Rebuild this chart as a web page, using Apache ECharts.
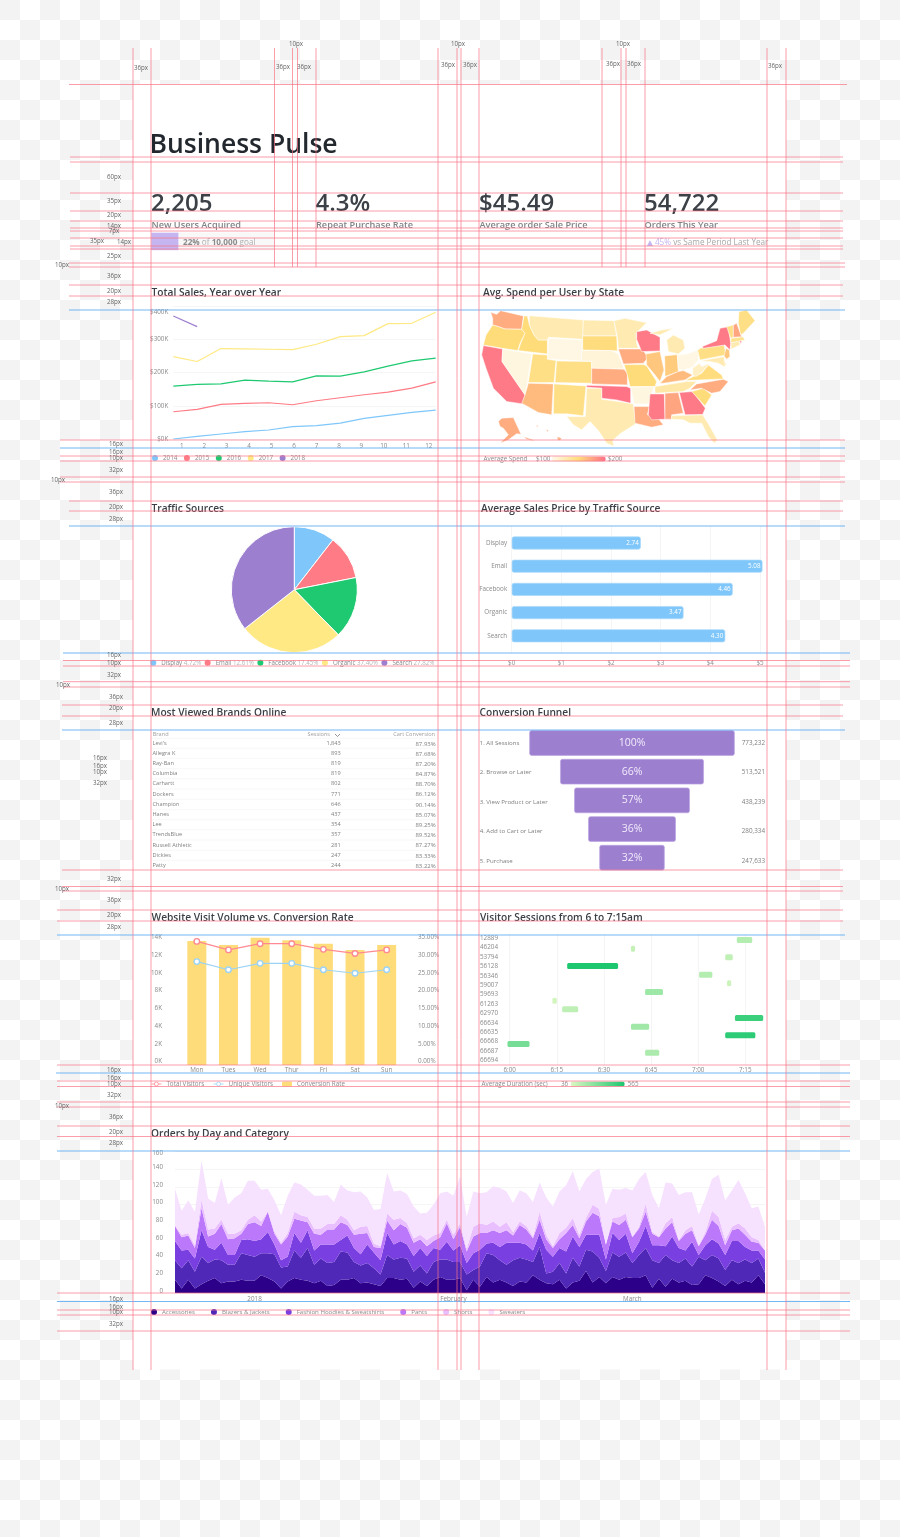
<!DOCTYPE html>
<html><head><meta charset="utf-8">
<style>
html,body{margin:0;padding:0;width:900px;height:1537px;overflow:hidden;background-color:#fff;
background-image:conic-gradient(#f3f3f3 25%,#fff 25% 50%,#f3f3f3 50% 75%,#fff 75%);background-size:40px 40px;background-position:20px 0}
#c{width:900px;height:1537px;filter:blur(0.4px)}
</style>
<script src="https://cdn.jsdelivr.net/npm/echarts@6/dist/echarts.min.js"></script>
</head><body><div id="c"></div>
<script>
const FONT='"Open Sans"';
// ---------- data ----------
const kpiValues=['2,205','4.3%','$45.49','54,722'];
const kpiNames=['New Users Acquired','Repeat Purchase Rate','Average order Sale Price','Orders This Year'];
const goalShare=[22];

const salesMonths=['1','2','3','4','5','6','7','8','9','10','11','12'];
const sales2014=[0,8,15,22,27,37,40,48,62,71,80,87];
const sales2015=[82,89,104,107,109,103,115,124,133,141,153,172];
const sales2016=[159,164,166,177,174,172,190,189,202,219,235,243];
const sales2017=[248,233,272,271,270,269,285,308,311,347,348,381];
const sales2018=[370,338];

const stateCodes=['WA','OR','CA','NV','ID','MT','WY','UT','AZ','CO','NM','ND','SD','NE','KS','OK','TX','MN','IA','MO','AR','LA','WI','IL','IN','MI','OH','KY','TN','MS','AL','GA','FL','SC','NC','VA','WV','PA','NY','NJ','DE','MD','CT','RI','MA','VT','NH','ME','AK','HI'];
const stateSpend=[172,150,195,105,150,125,103,145,165,145,145,125,148,108,172,198,125,125,172,150,105,172,195,160,158,125,103,165,130,195,175,195,125,150,172,148,118,145,195,160,120,125,125,195,140,145,175,145,172,170];
const stateShapes={
WA:[[[62,97],[80,103],[92,92],[160,108],[155,148],[105,147],[85,140],[68,135],[68,115]]],
OR:[[[68,135],[85,140],[105,147],[155,148],[165,160],[150,190],[143,212],[97,205],[40,195],[48,165]]],
CA:[[[40,197],[98,207],[96,245],[165,345],[158,372],[110,365],[70,325],[48,265],[35,225]]],
NV:[[[98,207],[185,222],[172,308],[165,345],[96,245]]],
ID:[[[162,108],[172,108],[178,135],[192,165],[205,180],[232,180],[232,222],[145,212],[152,190],[165,160],[155,148]]],
MT:[[[178,107],[340,120],[338,178],[236,172],[232,180],[205,180],[192,165],[178,135]]],
WY:[[[236,175],[336,180],[335,243],[232,237]]],
UT:[[[188,222],[232,225],[232,238],[258,242],[252,308],[175,308]]],
AZ:[[[175,310],[250,312],[245,405],[205,398],[155,370],[165,345]]],
CO:[[[260,243],[365,245],[365,310],[255,308]]],
NM:[[[252,312],[348,318],[340,408],[290,402],[250,402]]],
ND:[[[340,120],[432,122],[440,168],[338,168]]],
SD:[[[338,168],[440,168],[442,213],[425,212],[338,210]]],
NE:[[[335,212],[425,212],[445,222],[462,268],[365,265],[365,243],[335,243]]],
KS:[[[365,265],[462,268],[472,280],[472,315],[365,312]]],
OK:[[[350,316],[470,320],[482,325],[482,370],[440,360],[395,355],[395,325],[350,322]]],
TX:[[[350,325],[395,325],[395,358],[445,365],[490,372],[497,432],[450,462],[428,482],[432,500],[410,490],[385,452],[360,425],[335,450],[310,435],[290,410],[346,410]]],
MN:[[[432,122],[465,115],[530,128],[498,160],[500,190],[505,205],[445,205],[442,170]]],
IA:[[[445,207],[515,207],[535,232],[520,250],[460,252]]],
MO:[[[462,254],[520,254],[530,258],[560,305],[555,320],[480,320],[472,285]]],
AR:[[[482,322],[552,320],[538,372],[492,372]]],
LA:[[[492,380],[538,380],[532,405],[560,410],[580,435],[545,442],[495,430]]],
WI:[[[500,155],[530,150],[570,172],[570,213],[515,215],[500,178]]],
IL:[[[528,222],[570,215],[582,270],[570,305],[555,285],[530,255]]],
IN:[[[584,228],[622,224],[625,275],[585,290]]],
MI:[[[595,215],[590,180],[610,165],[640,180],[645,205],[625,222]],[[540,160],[575,150],[610,145],[590,155],[570,165]]],
OH:[[[622,225],[650,222],[685,210],[685,240],[668,262],[640,270],[625,268]]],
KY:[[[570,310],[590,290],[625,275],[640,272],[668,285],[645,300],[580,310]]],
TN:[[[555,320],[650,305],[680,305],[660,325],[640,335],[555,340]]],
MS:[[[540,342],[583,342],[585,418],[545,420],[535,405]]],
AL:[[[585,340],[625,338],[640,400],[605,405],[605,418],[585,418]]],
GA:[[[628,338],[668,335],[706,385],[698,404],[645,405]]],
FL:[[[605,408],[698,405],[720,440],[742,480],[733,490],[715,470],[695,430],[660,430],[640,420],[605,418]]],
SC:[[[665,335],[700,325],[725,345],[705,378]]],
NC:[[[660,330],[680,312],[760,298],[775,305],[750,335],[725,340],[695,325]]],
VA:[[[645,302],[670,290],[695,280],[715,255],[755,285],[760,297]]],
WV:[[[668,285],[668,265],[688,250],[695,260],[720,250],[695,278],[678,290]]],
PA:[[[683,212],[690,205],[762,195],[768,225],[690,240]]],
NY:[[[697,200],[740,182],[750,145],[775,140],[782,190],[780,210],[765,195],[700,205]]],
NJ:[[[768,205],[778,210],[780,230],[770,238],[762,228]]],
DE:[[[763,240],[770,255],[760,258]]],
MD:[[[690,243],[762,230],[765,262],[745,250],[720,245]]],
CT:[[[783,188],[808,182],[810,195],[783,208]]],
RI:[[[808,182],[815,182],[813,192]]],
MA:[[[782,175],[818,170],[825,180],[783,188]]],
VT:[[[770,140],[790,135],[790,172],[782,175]]],
NH:[[[790,135],[800,130],[815,170],[790,172]]],
ME:[[[807,95],[830,90],[855,122],[820,160],[812,165],[805,130]]],
AK:[[[85,425],[95,415],[130,413],[153,463],[140,462],[115,480],[90,490],[115,465],[100,445],[90,440]],[[160,470],[185,478],[195,484],[170,478]]],
HI:[[[262,470],[275,475],[270,482],[262,480]],[[198,436],[205,438],[202,442]],[[228,448],[236,452],[232,456]]]
};

const trafficNames=['Display','Email','Facebook','Organic','Search'];
const trafficSlices=[10.5,11.4,15.8,26.7,35.6];
const trafficPercents=['4.72%','12.61%','17.45%','37.40%','27.82%'];
const priceValues=[2.60,5.05,4.45,3.46,4.30];
const priceLabels=['2.74','5.08','4.46','3.47','4.30'];

const brandNames=["Levi's",'Allegra K','Ray-Ban','Columbia','Carhartt','Dockers','Champion','Hanes','Lee','TrendsBlue','Russell Athletic','Dickies','Patty'];
const brandSessions=['1,843','893','819','819','802','771','646','437','354','357','281','247','244'];
const brandCart=['87.93%','87.68%','87.20%','84.87%','88.70%','86.12%','90.14%','85.07%','89.25%','89.52%','87.27%','83.33%','83.22%'];

const funnelSteps=['1. All Sessions','2. Browse or Later','3. View Product or Later','4. Add to Cart or Later','5. Purchase'];
const funnelCounts=['773,232','513,521','438,239','280,334','247,633'];
const funnelPercents=['100%','66%','57%','36%','32%'];
const funnelWidths=[100,70,56.3,42.7,31.8];

const weekDays=['Mon','Tues','Wed','Thur','Fri','Sat','Sun'];
const totalVisitors=[13.96,13.0,13.7,13.7,13.06,12.6,13.0];
const uniqueVisitors=[11.68,10.76,11.48,11.48,10.76,10.36,10.76];
const conversionRate=[35.0,33.9,35.95,35.25,34.25,32.5,33.9];

const visitorIds=['12889','46204','53794','56128','56346','59007','59693','61263','62970','66634','66635','66668','66687','66694'];
const sessionStart=[72.3,38.6,68.6,18.3,60.3,69.2,43.1,13.6,16.7,71.7,38.6,68.6,-0.7,43.1];
const sessionEnd=[77.2,39.9,71.0,34.5,64.5,70.5,48.8,15.0,21.8,80.7,44.4,78.2,6.3,47.6];
const sessionDuration=[150,100,110,565,150,80,210,60,120,480,200,520,320,170];
const sessionTicks={0:'6:00',15:'6:15',30:'6:30',45:'6:45',60:'7:00',75:'7:15'};

// orders: read as the top edge of each stacked band
const topAccessories=[15,5,15,5,10,14,17,11,13,13,15,14,14,20,17,13,5,13,17,15,14,11,14,8,9,15,15,17,11,12,10,8,17,17,15,16,6,13,8,15,18,15,15,17,3,15,7,18,12,15,12,8,13,12,20,15,11,10,15,5,12,14,25,12,18,11,18,15,18,17,17,20,6,16,7,16,12,14,9,10,20,17,13,8,15,10,14,12,20,10];
const topBlazers=[37,28,37,24,41,34,38,37,32,32,45,43,41,45,45,44,29,30,48,40,51,32,39,34,35,47,46,35,31,34,28,21,43,38,40,39,24,31,22,35,38,38,35,35,21,26,30,45,43,37,32,37,40,38,35,52,22,24,34,22,40,30,49,47,40,25,46,41,46,34,43,51,37,34,43,37,34,39,30,41,37,43,39,26,37,34,38,34,39,23];
const topHoodies=[59,48,49,39,71,52,49,57,43,43,60,61,59,61,69,55,37,41,68,57,71,48,55,55,55,60,65,51,44,55,46,37,68,55,59,55,42,51,42,51,49,58,48,54,34,45,49,56,57,52,57,57,57,55,48,68,49,41,51,47,64,52,66,66,66,38,68,60,67,45,58,76,54,54,53,64,51,48,58,43,54,61,56,43,59,59,52,48,48,38];
const topPants=[76,63,65,51,96,64,67,78,61,62,67,78,80,76,92,67,55,64,84,82,80,67,66,72,72,80,77,66,67,68,52,51,82,71,78,74,57,61,53,59,63,79,61,75,47,64,68,68,71,68,71,65,77,72,62,83,61,51,61,68,77,62,81,91,87,55,81,77,83,63,73,92,67,63,73,80,59,67,71,53,66,83,76,54,71,73,66,58,57,48];
const topShorts=[77,66,68,54,106,72,73,83,67,67,71,83,88,81,92,70,57,68,92,88,86,73,73,78,78,88,83,71,75,76,56,53,90,83,85,79,62,66,60,65,68,83,66,79,50,75,79,77,81,75,80,69,81,76,64,92,66,53,68,74,85,66,85,100,95,55,85,86,90,64,75,101,69,64,79,86,60,71,76,54,69,93,86,60,75,79,73,63,60,49];
const topSweaters=[118,93,105,92,150,107,102,130,100,108,113,127,127,117,118,105,88,110,125,123,117,110,110,111,103,123,116,114,115,108,94,95,136,115,116,112,98,90,91,100,113,115,110,132,86,115,113,114,121,119,115,102,116,113,103,125,108,98,115,122,138,115,129,137,141,100,118,117,119,116,129,137,111,96,125,124,111,114,114,89,107,129,134,105,116,128,113,96,98,75];
const orderCategories=['Accessories','Blazers & Jackets','Fashion Hoodies & Sweatshirts','Pants','Shorts','Sweaters'];
const orderMonthTicks={12:'2018',42:'February',69:'March'};

// ---------- styles ----------
const C={blue:'#7fc7fa',red:'#ff7b85',green:'#1fc971',yellow:'#ffe984',purple:'#9d7fd0',amber:'#ffdc7a',grid:'#f5f5f5',label:'#8a8a8a',title:'#3a3f45'};
const orderColors=['#2c0089','#5028b8','#7a3fe0','#bc78fb','#e9bfff','#f6e1ff'];
const lbl=(s=6.5,c=C.label)=>({fontFamily:FONT,fontSize:s,color:c});
const noShow={show:false};

// ---------- map ----------
const geo={type:'FeatureCollection',features:stateCodes.map(n=>({type:'Feature',properties:{name:n},geometry:{type:'MultiPolygon',coordinates:stateShapes[n].map(r=>[r.concat([r[0]])])}}))};
echarts.registerMap('USA',geo);

// ---------- composition ----------
const grid=[],xAxis=[],yAxis=[],series=[],legend=[],visualMap=[];
function cell(box,x,y){grid.push(box);const i=grid.length-1;
 xAxis.push(Object.assign({gridIndex:i},x));yAxis.push(Object.assign({gridIndex:i},y));return {g:i,x:xAxis.length-1,y:yAxis.length-1};}
function leg(names,left,y,extra){legend.push(Object.assign({show:true,data:names,left,top:y-3,padding:0,orient:'horizontal',icon:'circle',itemWidth:6,itemHeight:6,itemGap:8,textStyle:lbl(6.3),selectedMode:false},extra||{}));}

// progress bar
let g=cell({left:151.3,top:232.7,width:123,height:17.4},{type:'value',min:0,max:100,show:false},{type:'category',data:['goal'],show:false});
series.push({type:'bar',xAxisIndex:g.x,yAxisIndex:g.y,data:goalShare,barWidth:18,itemStyle:{color:'#c5b5f0'},showBackground:true,backgroundStyle:{color:'#f8f8f8'},silent:true});

// line chart
g=cell({left:173.3,top:306,width:262.4,height:133},{type:'category',boundaryGap:false,data:salesMonths,show:false},
 {type:'value',min:0,max:400,interval:100,axisLine:noShow,axisTick:noShow,splitLine:{lineStyle:{color:C.grid,width:1}},
  axisLabel:Object.assign(lbl(6.3),{margin:5,lineHeight:12,formatter:v=>'$'+v+'K',verticalAlignMaxLabel:'top'})});
[['2014',sales2014,C.blue],['2015',sales2015,C.red],['2016',sales2016,C.green],['2017',sales2017,C.yellow],['2018',sales2018,C.purple]].forEach(([n,d,c])=>{
 series.push({type:'line',name:n,xAxisIndex:g.x,yAxisIndex:g.y,data:d,showSymbol:false,symbol:'none',lineStyle:{color:c,width:1.2},itemStyle:{color:c},silent:true});});
g=cell({left:170.5,top:306,width:269.5,height:133},{type:'category',data:salesMonths,axisLine:noShow,axisTick:noShow,axisLabel:Object.assign(lbl(6.3),{margin:4.5,interval:0})},
 {type:'value',min:0,max:400,show:false});
leg(['2014','2015','2016','2017','2018'],152,458,{itemGap:6.5});

// map
series.push({type:'map',map:'USA',left:481.7,top:310,width:273.3,height:136.5,aspectScale:1,roam:false,silent:true,showLegendSymbol:false,
 projection:{project:p=>p,unproject:p=>p},label:{show:false},emphasis:{disabled:true},select:{disabled:true},
 itemStyle:{borderColor:'#fff',borderWidth:0.5,areaColor:'#fff4d0'},
 data:stateCodes.map((n,i)=>({name:n,value:stateSpend[i]}))});
const mapSeriesIndex=series.length-1;
visualMap.push({type:'continuous',seriesIndex:mapSeriesIndex,min:100,max:200,orient:'horizontal',left:551.7,top:456.5,padding:0,itemWidth:5,itemHeight:54,showLabel:false,calculable:false,realtime:false,hoverLink:false,
 inRange:{color:['#fff9ea','#ffdc7a','#ff6f88']},textStyle:lbl(6.3)});

// pie
series.push({type:'pie',name:'Traffic',center:[294.3,589.7],radius:63,startAngle:90,silent:true,label:noShow,labelLine:noShow,
 itemStyle:{borderColor:'#fff',borderWidth:1},
 data:trafficNames.map((n,i)=>({name:n,value:trafficSlices[i],itemStyle:{color:[C.blue,C.red,C.green,C.yellow,C.purple][i]}}))});
leg(trafficNames,150.3,662.8,{itemGap:3.5,itemStyle:{borderWidth:0},formatter:n=>`{n|${n} }{p|${trafficPercents[trafficNames.indexOf(n)]}}`,
 textStyle:Object.assign(lbl(6.2),{rich:{n:lbl(6.2,'#888'),p:lbl(6.2,'#b5b5b5')}})});

// horizontal bars
g=cell({left:511.7,top:526,width:248.3,height:127},{type:'value',min:0,max:5,interval:1,axisLine:noShow,axisTick:noShow,splitLine:{lineStyle:{color:C.grid}},axisLabel:Object.assign(lbl(6.3),{margin:7,formatter:v=>'$'+v})},
 {type:'category',data:trafficNames,show:false});
g=cell({left:511.7,top:531.4,width:248.3,height:116},{type:'value',min:0,max:5,show:false},
 {type:'category',inverse:true,data:trafficNames,axisLine:noShow,axisTick:noShow,axisLabel:Object.assign(lbl(6.3),{margin:4.5,interval:0})});
series.push({type:'bar',name:'Average Sales Price',xAxisIndex:g.x,yAxisIndex:g.y,data:priceValues,barWidth:13,silent:true,clip:false,
 itemStyle:{color:C.blue,borderColor:'#a9d9fb',borderWidth:0.7,borderRadius:2},
 label:{show:true,position:'insideRight',distance:2,formatter:p=>priceLabels[p.dataIndex],fontFamily:FONT,fontSize:6.3,color:'#fff'}});

// funnel
g=cell({left:529.3,top:728.65,width:205.4,height:143.4},{type:'value',min:0,max:100,show:false},
 {type:'category',inverse:true,data:funnelSteps,show:false});
series.push({type:'bar',stack:'funnel',xAxisIndex:g.x,yAxisIndex:g.y,barWidth:25.5,silent:true,itemStyle:{color:'transparent'},data:funnelWidths.map(w=>(100-w)/2)});
series.push({type:'bar',stack:'funnel',name:'Conversion Funnel',xAxisIndex:g.x,yAxisIndex:g.y,barWidth:25.5,silent:true,data:funnelWidths,
 itemStyle:{color:C.purple,borderColor:'#bba4e2',borderWidth:0.7,borderRadius:2},
 label:{show:true,position:'inside',formatter:p=>funnelPercents[p.dataIndex],fontFamily:FONT,fontSize:10.5,color:'#f1ebfa'}});
g=cell({left:529.3,top:728.3,width:205.4,height:147.5},{type:'value',min:0,max:100,show:false},
 {type:'category',inverse:true,data:funnelSteps,axisLine:noShow,axisTick:noShow,axisLabel:Object.assign(lbl(6.1,'#7f7f7f'),{align:'left',margin:49.6,interval:0})});
yAxis.push({gridIndex:g.g,type:'category',inverse:true,position:'right',data:funnelCounts,axisLine:noShow,axisTick:noShow,axisLabel:Object.assign(lbl(6.3,'#7f7f7f'),{align:'right',margin:30.3,interval:0})});

// combo
g=cell({left:181,top:937.5,width:221.5,height:127.5},{type:'category',data:weekDays,axisLine:noShow,axisTick:noShow,axisLabel:Object.assign(lbl(6.3),{margin:2,interval:0})},
 {type:'value',min:0,max:14.4,interval:2,axisLine:noShow,axisTick:noShow,splitLine:noShow,axisLabel:Object.assign(lbl(6.3),{margin:19,showMaxLabel:false,verticalAlign:'bottom',lineHeight:7,formatter:v=>v+'K'})});
yAxis.push({gridIndex:g.g,type:'value',position:'right',min:0,max:36,interval:5,axisLine:noShow,axisTick:noShow,splitLine:noShow,axisLabel:Object.assign(lbl(6.3),{margin:15.5,showMaxLabel:false,verticalAlign:'bottom',lineHeight:7,formatter:v=>v.toFixed(2)+'%'})});
const rightAxis=yAxis.length-1;
series.push({type:'bar',name:'Conversion Rate',xAxisIndex:g.x,yAxisIndex:rightAxis,data:conversionRate,barWidth:19,itemStyle:{color:C.amber},silent:true,z:2});
[['Total Visitors',totalVisitors,'#ff8a92'],['Unique Visitors',uniqueVisitors,'#9bd3f5']].forEach(([n,d,c])=>{
 series.push({type:'line',name:n,xAxisIndex:g.x,yAxisIndex:g.y,data:d,symbol:'circle',symbolSize:5.5,silent:true,z:3,lineStyle:{color:c,width:1.2},itemStyle:{color:'#fff',borderColor:c,borderWidth:1.4}});});
leg(['Total Visitors','Unique Visitors','Conversion Rate'],151,1084,{itemWidth:10,itemHeight:5,itemGap:9,itemStyle:{borderWidth:0.8},lineStyle:{width:0.8}});
delete legend[legend.length-1].icon;

// gantt
g=cell({left:509.7,top:933.6,width:235.6,height:131.6},{type:'value',min:0,max:75,interval:15,axisLine:noShow,axisTick:noShow,splitLine:{lineStyle:{color:C.grid}},axisLabel:Object.assign(lbl(6.3),{margin:2.5,formatter:v=>sessionTicks[v]})},
 {type:'category',inverse:true,data:visitorIds,axisLine:noShow,axisTick:noShow,axisLabel:Object.assign(lbl(6.3),{align:'left',margin:29.7,interval:0})});
g=cell({left:509.7,top:935.7,width:235.6,height:121.3},{type:'value',min:0,max:75,show:false},{type:'category',inverse:true,data:visitorIds,show:false});
series.push({type:'custom',name:'Sessions',xAxisIndex:g.x,yAxisIndex:g.y,silent:true,encode:{x:[1,2],y:0},clip:false,
 data:visitorIds.map((id,i)=>[i,sessionStart[i],sessionEnd[i],sessionDuration[i]]),
 renderItem:(params,api)=>{const a=api.coord([api.value(1),api.value(0)]),b=api.coord([api.value(2),api.value(0)]);const h=6;
  return {type:'rect',shape:{x:a[0],y:a[1]-h/2,width:b[0]-a[0],height:h,r:1.5},style:{fill:api.visual('color')}};}});
const ganttIndex=series.length-1;
visualMap.push({type:'continuous',seriesIndex:ganttIndex,dimension:3,min:36,max:565,orient:'horizontal',left:570.7,top:1081.5,padding:0,itemWidth:5,itemHeight:54,showLabel:false,calculable:false,realtime:false,hoverLink:false,
 inRange:{color:['#dcf7c2','#1dc76f']},textStyle:lbl(6.3)});

// stacked areas
const tops=[topAccessories,topBlazers,topHoodies,topPants,topShorts,topSweaters];
const dayLabels=topAccessories.map((v,i)=>orderMonthTicks[i]||'');
g=cell({left:175,top:1151.7,width:590,height:141.3},{type:'category',boundaryGap:false,data:dayLabels,axisLine:noShow,axisTick:noShow,axisLabel:Object.assign(lbl(6.3),{margin:3,interval:0,hideOverlap:false})},
 {type:'value',min:0,max:160,interval:20,axisLine:noShow,axisTick:noShow,splitLine:{lineStyle:{color:C.grid}},axisLabel:Object.assign(lbl(6.3),{margin:12,verticalAlign:'bottom',lineHeight:4,verticalAlignMaxLabel:'top'})});
orderCategories.forEach((n,k)=>{
 const d=tops[k].map((t,i)=>k?Math.max(0,t-tops[k-1][i]):t);
 series.push({type:'line',name:n,stack:'orders',xAxisIndex:g.x,yAxisIndex:g.y,data:d,symbol:'none',silent:true,lineStyle:{width:0},areaStyle:{color:orderColors[k],opacity:1},itemStyle:{color:orderColors[k]}});
});
leg(orderCategories,151,1312,{itemGap:16,textStyle:lbl(6.1)});

// ---------- page furniture (layout only) ----------
const pink='rgba(250,115,135,0.7)',bluek='rgba(100,175,245,0.9)';
const g_=[];
g_.push({type:'rect',z:-5,shape:{x:133,y:84.5,width:653,height:1285},style:{fill:'#fff'},silent:true});
function txt(text,x,y,font,fill,align,z){g_.push({type:'text',z:z||30,silent:true,x,y,style:{text,font,fill,align:align||'left',verticalAlign:'middle'}});}
txt('Business Pulse',149.5,145,'600 26.5px '+FONT,'#23282e');
[151,315.5,479,644].forEach((x,i)=>{
 txt(kpiValues[i],x,204.5,'600 24px '+FONT,'#3c4147');
 txt(kpiNames[i],x+0.5,225.5,'600 9.2px '+FONT,'#808488');
});
g_.push({type:'text',z:30,silent:true,x:183,y:242.5,style:{rich:{b:{font:'700 8.2px '+FONT,fill:'#8a8a8a'},r:{font:'400 8.2px '+FONT,fill:'#b0b0b0'}},text:'{b|22% }{r|of }{b|10,000 }{r|goal}',font:'400 8.2px '+FONT,verticalAlign:'middle'}});
g_.push({type:'text',z:30,silent:true,x:645,y:243,style:{rich:{t:{font:'400 10px '+FONT,fill:'#c5b5f0'},a:{font:'400 8.2px '+FONT,fill:'#c5b5f0'},r:{font:'400 8.2px '+FONT,fill:'#a8a8a8'}},text:'{t|▲}{a|45% }{r|vs Same Period Last Year}',font:'400 8.2px '+FONT,verticalAlign:'middle'}});
const cardTitles=[['Total Sales, Year over Year',151.5,292.7],['Avg. Spend per User by State',483,292.7],['Traffic Sources',151.5,508.7],['Average Sales Price by Traffic Source',481,508.7],['Most Viewed Brands Online',151,712.7],['Conversion Funnel',479.5,712.7],['Website Visit Volume vs. Conversion Rate',151.5,917.7],['Visitor Sessions from 6 to 7:15am',480,917.7],['Orders by Day and Category',151,1133.7]];
cardTitles.forEach(t=>txt(t[0],t[1],t[2],'600 10.2px '+FONT,C.title));
txt('Average Spend',483.5,459,'400 6.3px '+FONT,C.label);
txt('$100',536,459,'400 6.3px '+FONT,C.label);txt('$200',608,459,'400 6.3px '+FONT,C.label);
txt('Average Duration (sec)',481.5,1084.5,'400 6.3px '+FONT,C.label);
txt('36',561,1084.5,'400 6.3px '+FONT,C.label);txt('565',627.7,1084.5,'400 6.3px '+FONT,C.label);
// table
txt('Brand',152.7,734.5,'400 5.6px '+FONT,'#a0a0a0');txt('Sessions',330,734.5,'400 5.6px '+FONT,'#a0a0a0','right');txt('Cart Conversion',435,734.5,'400 5.6px '+FONT,'#a0a0a0','right');
g_.push({type:'polyline',z:30,silent:true,shape:{points:[[335,734],[337.5,736.5],[340,734]]},style:{fill:'none',stroke:'#666',lineWidth:0.7}});
const rowY=[743.3,753.3,763.3,773.7,783.7,794,804.3,814.7,824.7,834.7,845,855.3,865.3];
brandNames.forEach((b,i)=>{
 txt(b,152.5,rowY[i],'400 5.6px '+FONT,'#808080');txt(brandSessions[i],340.7,rowY[i],'400 5.6px '+FONT,'#808080','right');txt(brandCart[i],435.7,rowY[i]+0.5,'400 6px '+FONT,'#808080','right');
 g_.push({type:'line',z:3,silent:true,shape:{x1:152,y1:rowY[i]-5,x2:436,y2:rowY[i]-5},style:{stroke:'#f3f3f3',lineWidth:0.7}});
});
// redlines
const hPink=[[84.5,69,847],[157,70,843],[162,70,843],[193,70,843],[211,70,843],[221,70,843],[228,70,843],[231,70,843],[238,70,843],[246,70,843],[249,70,843],[263,69,845],[267,69,845],
[285,69,843],[296,69,843],[440,60,845],[456,60,845],[461,60,845],[477,60,845],[482,60,845],[501,69,843],[511,69,843],[660.5,63,850],[666,63,850],[681.7,63,850],[687,63,850],
[705,62,843],[716,62,843],[870,62,843],[886.5,62,843],[891,62,843],[910,57,843],[921,57,843],[1065,57,850],[1081,57,850],[1086.5,57,850],[1102,57,850],[1107,57,850],[1126,57,850],[1136.5,57,850],[1293,57,850],[1310,57,850],[1315,57,850],[1331,57,850]];
const hBlue=[[310,69,845],[448,60,845],[526,69,845],[653,63,850],[730,62,845],[935,57,845],[1073,56,850],[1151,57,850],[1301.5,57,850]];
const vFull=[133,151,438,457,461,479,767,786];
const vShort=[274.5,292.5,297.5,316,602,621,626,645];
hPink.forEach(h=>g_.push({type:'line',z:40,silent:true,shape:{x1:h[1],y1:h[0],x2:h[2],y2:h[0]},style:{stroke:pink,lineWidth:1}}));
hBlue.forEach(h=>g_.push({type:'line',z:40,silent:true,shape:{x1:h[1],y1:h[0],x2:h[2],y2:h[0]},style:{stroke:bluek,lineWidth:1}}));
vFull.forEach(x=>g_.push({type:'line',z:40,silent:true,shape:{x1:x,y1:48,x2:x,y2:1370},style:{stroke:pink,lineWidth:1}}));
vShort.forEach(x=>g_.push({type:'line',z:40,silent:true,shape:{x1:x,y1:48,x2:x,y2:267},style:{stroke:pink,lineWidth:1}}));
const pxNotes=[['36px',141,68],['36px',283,67],['36px',304,67],['36px',448,65],['36px',470,65],['36px',613,64],['36px',634,64],['36px',775,66],['10px',296,44],['10px',458,44],['10px',623,44],
['60px',114,177],['35px',114,201],['20px',114,215],['14px',114,226],['7px',114,231],['35px',97,241],['14px',124,242],['25px',114,256],['10px',62,265],['36px',114,276],['20px',114,291],['28px',114,302],
['16px',116,444],['16px',116,452],['10px',116,458],['32px',116,470],['10px',58,480],['36px',116,492],['20px',116,507],['28px',116,519],['16px',114,655],['10px',114,663],['32px',114,675],['10px',63,685],
['36px',116,697],['20px',116,708],['28px',116,723],['16px',100,758],['16px',100,766],['10px',100,772],['32px',100,783],['32px',114,879],['10px',62,889],['36px',114,900],['20px',114,915],['28px',114,927],
['16px',114,1070],['16px',114,1078],['10px',114,1084],['32px',114,1095],['10px',62,1106],['36px',116,1117],['20px',116,1132],['28px',116,1143],['16px',116,1299],['16px',116,1307],['10px',116,1312],['32px',116,1324]];
pxNotes.forEach(n=>txt(n[0],n[1],n[2],'400 6.2px '+FONT,'#666','center',45));

const chart=echarts.init(document.getElementById('c'),null,{renderer:'canvas',width:900,height:1537});
chart.setOption({animation:false,backgroundColor:'transparent',tooltip:{show:false},grid,xAxis,yAxis,series,legend,visualMap,graphic:{elements:g_}});
</script>
</body></html>
